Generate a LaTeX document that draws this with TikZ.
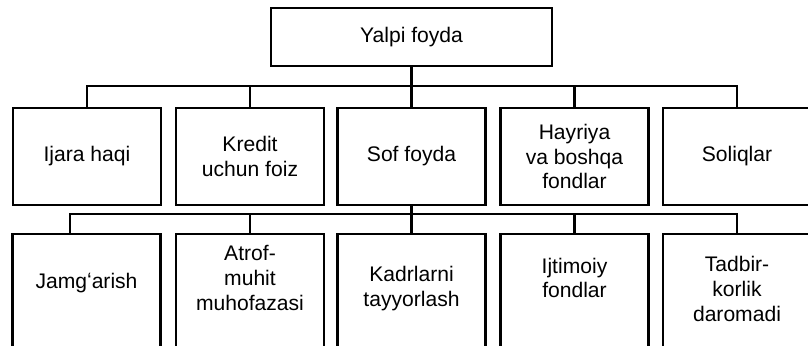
\documentclass[tikz,border=0pt]{standalone}
\usepackage{fontspec}
\setmainfont{Liberation Sans}
\usetikzlibrary{positioning}

\tikzset{
  box/.style={draw, line width=1.5pt, minimum width=3.7cm, minimum height=2.425cm, align=center, inner sep=0pt},
  lowbox/.style={draw, line width=1.5pt, minimum width=3.7cm, minimum height=3.5cm, anchor=north, inner sep=0pt},
  boxtext/.style={align=center, anchor=center, inner sep=0pt},
  link/.style={line width=1.5pt}
}

\begin{document}
\begin{tikzpicture}[x=0.025cm, y=-0.025cm, font=\fontsize{15}{17.5}\selectfont]
\useasboundingbox (0,0) rectangle (808,346);
\clip (0,0) rectangle (808,346);

\node [box, minimum width=7.025cm, minimum height=1.45cm] (yalpi) at (411.5,37) {Yalpi foyda};

\node [box] (ijara)   at (87,156.5)    {Ijara haqi};
\node [box] (kredit)  at (250,156.5)   {Kredit\\uchun foiz};
\node [box] (sof)     at (411.5,156.5) {Sof foyda};
\node [box] (hayriya) at (574.5,156.5) {Hayriya\\va boshqa\\fondlar};
\node [box] (soliq)   at (737,156.5)   {Soliqlar};

\node [lowbox] (jam)    at (86.5,233)  {};
\node [lowbox] (atrof)  at (250,233)   {};
\node [lowbox] (kadr)   at (411.5,233) {};
\node [lowbox] (ijtim)  at (574.5,233) {};
\node [lowbox] (tadbir) at (737,233)   {};

\node [boxtext] (jamtxt)    at ([yshift=-1.25cm]jam.north)    {Jamgʻarish};
\node [boxtext] (atroftxt)  at ([yshift=-1.125cm]atrof.north) {Atrof-\\muhit\\muhofazasi};
\node [boxtext] (kadrtxt)   at ([yshift=-1.39cm]kadr.north)   {Kadrlarni\\tayyorlash};
\node [boxtext] (ijtimtxt)  at ([yshift=-1.125cm]ijtim.north) {Ijtimoiy\\fondlar};
\node [boxtext] (tadbirtxt) at ([yshift=-1.4cm]tadbir.north)  {Tadbir-\\korlik\\daromadi};

\coordinate (busA) at (0,86);
\coordinate (busB) at (0,214);
\coordinate (jamtop) at ([xshift=-0.41cm]jam.north);

\draw [link] (yalpi.south) -- (sof.north);
\draw [link] (ijara.north) -- (ijara.north |- busA) -- (soliq.north |- busA) -- (soliq.north);
\foreach \n in {kredit,hayriya}
  \draw [link] (\n.north) -- (\n.north |- busA);

\draw [link] (sof.south) -- (kadr.north);
\draw [link] (jamtop) -- (jamtop |- busB) -- (tadbir.north |- busB) -- (tadbir.north);
\foreach \n in {atrof,ijtim}
  \draw [link] (\n.north) -- (\n.north |- busB);
\end{tikzpicture}
\end{document}
